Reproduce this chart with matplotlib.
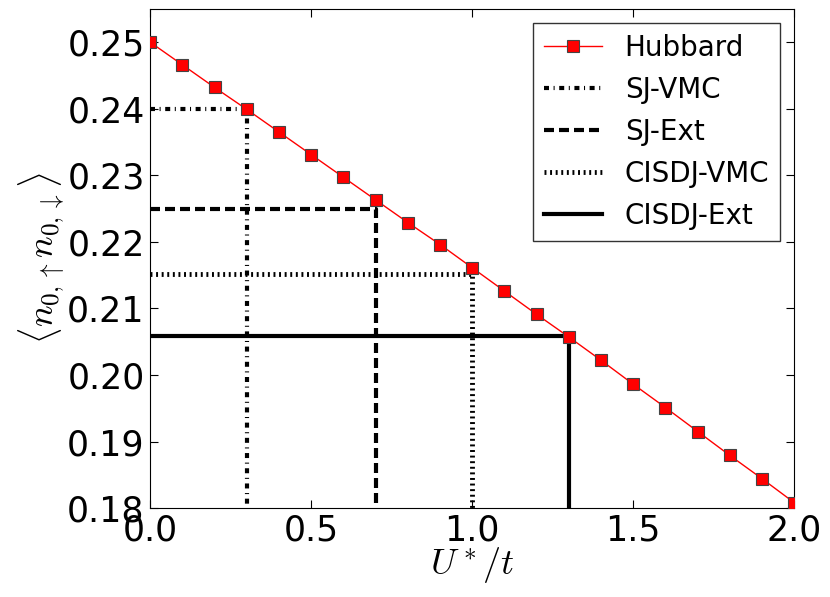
import matplotlib
matplotlib.use('Agg')
import matplotlib.pyplot as plt

plt.rcParams['mathtext.fontset'] = 'cm'
plt.rcParams['font.family'] = ['DejaVu Sans']

# Hubbard curve
u = [0.0, 0.1, 0.2, 0.3, 0.4, 0.5, 0.6, 0.7, 0.8, 0.9, 1.0,
     1.1, 1.2, 1.3, 1.4, 1.5, 1.6, 1.7, 1.8, 1.9, 2.0]
docc = [0.2500, 0.2466, 0.2432, 0.2399, 0.2365, 0.2331, 0.2297, 0.2263, 0.2229,
        0.2196, 0.2161, 0.2126, 0.2091, 0.2057, 0.2022, 0.1986, 0.1951, 0.1915,
        0.1879, 0.1844, 0.1808]

# 各方法对应的 U*/t 和双占据
labels = ['SJ-VMC', 'SJ-Ext', 'CISDJ-VMC', 'CISDJ-Ext']
u_star = [0.3, 0.7, 1.0, 1.3]
d_val = [0.2400, 0.2250, 0.2152, 0.2058]
styles = [dict(ls=(0, (1.2, 1.1, 0.25, 1.1)), lw=3),
          dict(ls=(0, (2.4, 1.2)), lw=3),
          dict(ls=(0, (0.4, 0.75)), lw=3.5),
          dict(ls='-', lw=3)]

fig = plt.figure(figsize=(8.3, 5.97), dpi=100)
ax = fig.add_axes([0.181, 0.149, 0.776, 0.836])

ax.plot(u, docc, color='red', lw=1, marker='s', ms=8, mfc='red',
        mec='#444444', mew=0.8, label='Hubbard', zorder=3)

x0, y0 = 0.0, 0.18
for lab, us, d, st in zip(labels, u_star, d_val, styles):
    ax.plot([x0, us, us], [d, d, y0], color='black', label=lab, **st)

ax.set_xlim(0, 2)
ax.set_ylim(0.18, 0.255)
ax.set_xticks([0, 0.5, 1.0, 1.5, 2.0])
ax.set_yticks([0.18, 0.19, 0.20, 0.21, 0.22, 0.23, 0.24, 0.25])
ax.xaxis.set_major_formatter(matplotlib.ticker.FormatStrFormatter('%.1f'))
ax.yaxis.set_major_formatter(matplotlib.ticker.FormatStrFormatter('%.2f'))
ax.tick_params(direction='in', top=True, right=True, labelsize=25, length=6, pad=4)

ax.set_xlabel(r'$U^* /t$', fontsize=26, labelpad=-2)
ax.set_ylabel(r'$\langle n_{0,\uparrow} n_{0,\downarrow}\rangle$', fontsize=26, labelpad=0)

leg = ax.legend(loc='upper right', numpoints=1, fontsize=20, fancybox=False,
                handlelength=2.1, borderaxespad=0.5, labelspacing=0.5,
                handletextpad=0.8)
leg.get_frame().set_edgecolor('black')
leg.get_frame().set_linewidth(1.0)

fig.savefig('out.png', dpi=100)
